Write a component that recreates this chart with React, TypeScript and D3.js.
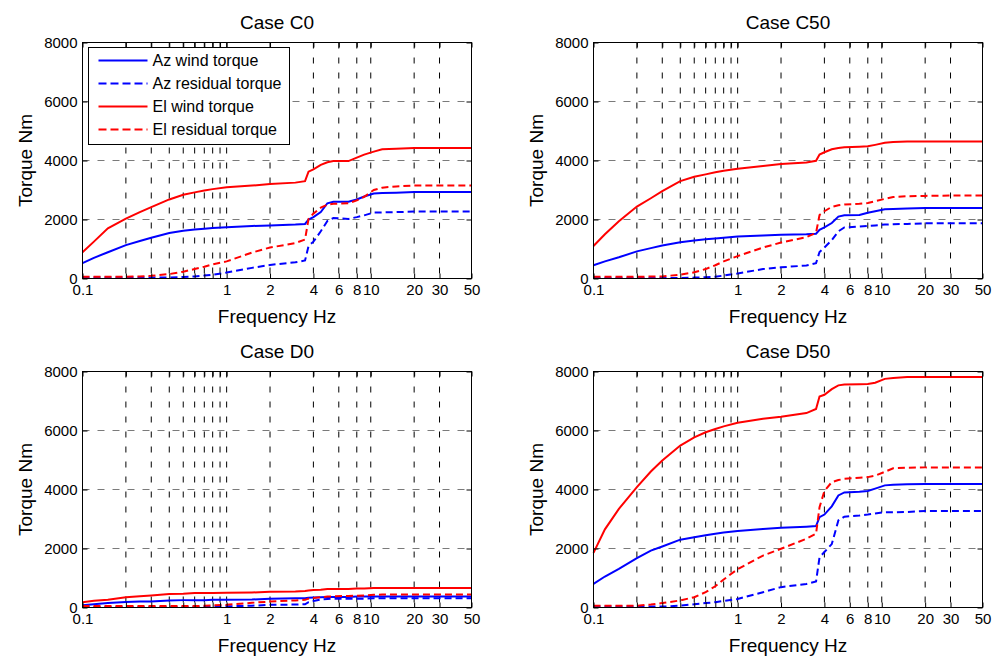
import React, { useEffect, useRef } from 'react';
import * as d3 from 'd3';

// frequency grid (Hz) shared by every curve
const FREQ = [0.1, 0.12, 0.15, 0.2, 0.25, 0.3, 0.4, 0.5, 0.6, 0.7, 0.8, 1, 1.5, 2, 3, 3.5, 3.7, 4, 4.5, 5, 5.5, 7, 8, 9, 10.5, 12, 15, 20, 30, 50];

// Case C0
const C0_AZ_WIND = [520, 700, 890, 1130, 1270, 1380, 1540, 1620, 1660, 1690, 1710, 1740, 1780, 1800, 1830, 1850, 2000, 2080, 2250, 2550, 2600, 2600, 2680, 2780, 2880, 2900, 2910, 2930, 2930, 2930];
const C0_AZ_RES = [30, 30, 30, 30, 30, 30, 35, 50, 70, 100, 130, 200, 360, 460, 550, 610, 1100, 1250, 1600, 1950, 2050, 2020, 2080, 2140, 2240, 2240, 2250, 2270, 2270, 2270];
const C0_EL_WIND = [890, 1250, 1700, 2030, 2250, 2420, 2680, 2840, 2920, 2980, 3030, 3090, 3150, 3200, 3250, 3300, 3620, 3700, 3850, 3940, 3980, 3980, 4100, 4200, 4300, 4380, 4400, 4420, 4420, 4420];
const C0_EL_RES = [60, 60, 60, 60, 70, 90, 150, 230, 320, 400, 480, 580, 880, 1050, 1200, 1320, 2020, 2200, 2400, 2500, 2530, 2550, 2650, 2770, 3000, 3080, 3120, 3150, 3150, 3150];

// Case C50
const C50_AZ_WIND = [450, 580, 720, 920, 1030, 1120, 1230, 1290, 1330, 1360, 1380, 1420, 1460, 1480, 1500, 1520, 1650, 1730, 1880, 2100, 2140, 2150, 2230, 2280, 2350, 2360, 2370, 2390, 2390, 2390];
const C50_AZ_RES = [20, 20, 20, 20, 20, 20, 20, 30, 45, 60, 100, 170, 320, 380, 440, 520, 900, 1050, 1300, 1600, 1730, 1760, 1780, 1800, 1830, 1840, 1850, 1870, 1870, 1870];
const C50_EL_WIND = [1100, 1500, 1940, 2440, 2720, 2960, 3300, 3450, 3530, 3600, 3650, 3720, 3810, 3880, 3930, 3990, 4200, 4280, 4380, 4420, 4450, 4470, 4480, 4530, 4600, 4630, 4640, 4640, 4640, 4640];
const C50_EL_RES = [60, 60, 60, 60, 65, 70, 130, 210, 320, 450, 580, 760, 1050, 1220, 1400, 1550, 2150, 2280, 2430, 2480, 2510, 2530, 2560, 2620, 2700, 2760, 2790, 2800, 2810, 2810];

// Case D0
const D0_AZ_WIND = [80, 110, 150, 190, 200, 200, 240, 250, 250, 250, 260, 260, 270, 300, 310, 310, 330, 340, 350, 360, 360, 360, 370, 370, 370, 370, 370, 370, 370, 370];
const D0_AZ_RES = [20, 20, 20, 20, 20, 20, 20, 20, 20, 25, 30, 40, 60, 90, 100, 110, 180, 220, 270, 290, 300, 300, 300, 300, 310, 310, 310, 310, 310, 310];
const D0_EL_WIND = [180, 230, 260, 350, 380, 410, 460, 470, 490, 490, 490, 500, 510, 530, 540, 560, 580, 590, 600, 630, 630, 630, 640, 640, 660, 660, 660, 660, 660, 660];
const D0_EL_RES = [50, 50, 50, 50, 50, 50, 50, 50, 50, 60, 70, 90, 160, 200, 240, 260, 300, 320, 350, 370, 380, 390, 400, 410, 430, 440, 440, 440, 440, 440];

// Case D50
const D50_AZ_WIND = [800, 1050, 1310, 1670, 1930, 2070, 2300, 2380, 2450, 2500, 2540, 2590, 2660, 2700, 2740, 2760, 3060, 3150, 3430, 3800, 3900, 3920, 3950, 4030, 4140, 4160, 4180, 4190, 4190, 4190];
const D50_AZ_RES = [30, 30, 30, 30, 30, 30, 60, 110, 150, 180, 220, 290, 520, 690, 800, 880, 1700, 1880, 2150, 2950, 3080, 3120, 3150, 3190, 3230, 3230, 3240, 3270, 3270, 3270];
const D50_EL_WIND = [1850, 2650, 3340, 4080, 4610, 4980, 5490, 5770, 5940, 6050, 6140, 6260, 6400, 6470, 6590, 6730, 7150, 7210, 7400, 7530, 7560, 7570, 7580, 7620, 7750, 7780, 7810, 7810, 7810, 7810];
const D50_EL_RES = [60, 60, 60, 60, 100, 150, 240, 350, 520, 720, 950, 1300, 1760, 1990, 2330, 2500, 3400, 3950, 4250, 4320, 4360, 4400, 4420, 4470, 4600, 4720, 4740, 4750, 4750, 4750];

const CASES = ['Case C0', 'Case C50', 'Case D0', 'Case D50'];
const CASE_DATA = [
  [C0_AZ_WIND, C0_AZ_RES, C0_EL_WIND, C0_EL_RES],
  [C50_AZ_WIND, C50_AZ_RES, C50_EL_WIND, C50_EL_RES],
  [D0_AZ_WIND, D0_AZ_RES, D0_EL_WIND, D0_EL_RES],
  [D50_AZ_WIND, D50_AZ_RES, D50_EL_WIND, D50_EL_RES],
];

const SERIES_NAMES = ['Az wind torque', 'Az residual torque', 'El wind torque', 'El residual torque'];
const SERIES_COLORS = ['#0000ff', '#0000ff', '#ff0000', '#ff0000'];
const SERIES_DASHED = [false, true, false, true];

const X_TICKS = [0.1, 0.2, 0.3, 0.4, 0.5, 0.6, 0.7, 0.8, 0.9, 1, 2, 4, 6, 8, 10, 20, 30, 50];
const X_LABELS = [0.1, 1, 2, 4, 6, 8, 10, 20, 30, 50];
const Y_TICKS = [0, 2000, 4000, 6000, 8000];
const Y_GRID = [2000, 4000, 6000];

const FONT = '"Liberation Sans", Arial, sans-serif';
const PW = 389;
const PH = 236;
const LEFTS = [82, 593];
const TOPS = [42, 371];

export default function App() {
  const ref = useRef<SVGSVGElement>(null);

  useEffect(() => {
    const svg = d3.select(ref.current);
    svg.selectAll('*').remove();

    CASES.forEach((title, i) => {
      const left = LEFTS[i % 2] + 0.5;
      const top = TOPS[Math.floor(i / 2)] + 0.5;
      const x = d3.scaleLog().domain([0.1, 50]).range([0, PW]);
      const y = d3.scaleLinear().domain([0, 8000]).range([PH, 0]);
      const g = svg.append('g').attr('transform', `translate(${left},${top})`);

      // grid
      g.append('g').selectAll('line').data(Y_GRID).join('line')
        .attr('x1', 0).attr('x2', PW)
        .attr('y1', d => y(d)).attr('y2', d => y(d))
        .attr('stroke', '#7a7a7a').attr('stroke-dasharray', '7,8');
      g.append('g').selectAll('line').data(X_TICKS.filter(d => d > 0.1 && d < 50)).join('line')
        .attr('x1', d => x(d)).attr('x2', d => x(d))
        .attr('y1', 0).attr('y2', PH)
        .attr('stroke', '#000').attr('stroke-dasharray', '6,9');

      // curves
      const line = d3.line<number>()
        .x((d, k) => x(FREQ[k]))
        .y(d => y(d));
      CASE_DATA[i].forEach((vals, s) => {
        g.append('path')
          .attr('d', line(vals))
          .attr('fill', 'none')
          .attr('stroke', SERIES_COLORS[s])
          .attr('stroke-width', 2)
          .attr('stroke-dasharray', SERIES_DASHED[s] ? '7,4' : null);
      });

      // axes
      const fmt = (d: any) => (X_LABELS.includes(d) ? String(d) : '');
      const xb = g.append('g').attr('transform', `translate(0,${PH})`)
        .call(d3.axisBottom(x).tickValues(X_TICKS).tickSize(-5).tickPadding(6).tickFormat(fmt));
      const xt = g.append('g')
        .call(d3.axisTop(x).tickValues(X_TICKS).tickSize(-5).tickFormat(() => ''));
      const yl = g.append('g')
        .call(d3.axisLeft(y).tickValues(Y_TICKS).tickSize(-5).tickPadding(5).tickFormat(d3.format('d')));
      const yr = g.append('g').attr('transform', `translate(${PW},0)`)
        .call(d3.axisRight(y).tickValues(Y_TICKS).tickSize(-5).tickFormat(() => ''));
      [xb, xt, yl, yr].forEach(a => {
        a.select('.domain').remove();
        a.attr('font-family', FONT).attr('font-size', 15);
        a.selectAll('text').attr('fill', '#000');
      });

      g.append('rect').attr('width', PW).attr('height', PH)
        .attr('fill', 'none').attr('stroke', '#000');

      // labels
      g.append('text').attr('x', PW / 2).attr('y', -14)
        .attr('text-anchor', 'middle').attr('font-family', FONT).attr('font-size', 19)
        .text(title);
      g.append('text').attr('x', PW / 2).attr('y', PH + 44)
        .attr('text-anchor', 'middle').attr('font-family', FONT).attr('font-size', 19)
        .text('Frequency Hz');
      g.append('text').attr('transform', `translate(-51,${PH / 2}) rotate(-90)`)
        .attr('text-anchor', 'middle').attr('font-family', FONT).attr('font-size', 19)
        .text('Torque Nm');

      // legend only in first panel
      if (i === 0) {
        const lg = g.append('g').attr('transform', 'translate(6,5)');
        lg.append('rect').attr('width', 201).attr('height', 97)
          .attr('fill', '#fff').attr('stroke', '#000');
        SERIES_NAMES.forEach((name, s) => {
          const cy = 13 + s * 23;
          lg.append('line').attr('x1', 10).attr('x2', 59).attr('y1', cy).attr('y2', cy)
            .attr('stroke', SERIES_COLORS[s]).attr('stroke-width', 2)
            .attr('stroke-dasharray', SERIES_DASHED[s] ? '8,4' : null);
          lg.append('text').attr('x', 64).attr('y', cy + 5.5)
            .attr('font-family', FONT).attr('font-size', 16)
            .text(name);
        });
      }
    });
  }, []);

  return (
    <div style={{ position: 'absolute', left: 0, top: 0 }}>
      <svg ref={ref} width={997} height={656} style={{ display: 'block', background: '#fff' }} />
    </div>
  );
}
